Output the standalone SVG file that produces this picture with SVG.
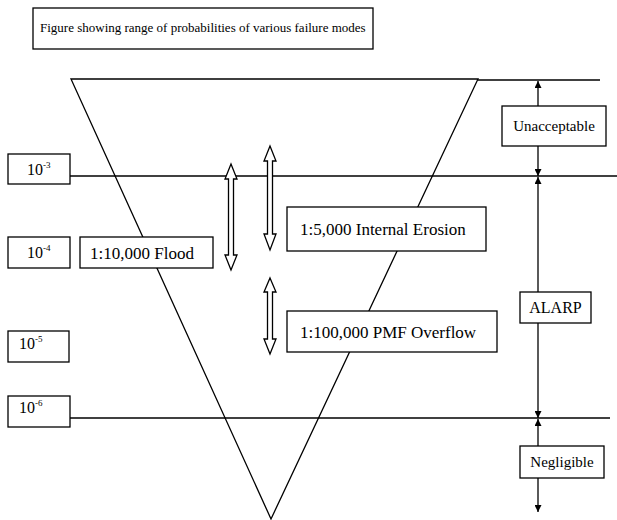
<svg xmlns="http://www.w3.org/2000/svg" width="617" height="520" viewBox="0 0 617 520">
<style>
.box{fill:#fff;stroke:#000;stroke-width:1.3}
.ln{stroke:#000;stroke-width:1.3;fill:none}
.t{font-family:"Liberation Serif","Times New Roman",serif;font-size:16px;fill:#000}
.l{font-size:17px}
.s{font-size:9px}
.dbl{fill:#fff;stroke:#000;stroke-width:1.3}
</style>
<defs>
<marker id="ah" viewBox="0 0 10 10" refX="10" refY="5" markerWidth="7" markerHeight="7" orient="auto-start-reverse" markerUnits="userSpaceOnUse">
<path d="M0,0 L10,5 L0,10 Z" fill="#000"/>
</marker>
</defs>
<g id="title"><rect class="box" x="33" y="8" width="340" height="41"/><text class="t" x="40" y="32" style="font-size:13px">Figure showing range of probabilities of various failure modes</text></g>
<g id="triangle"><polygon class="ln" points="71,79 478,79 271,519"/></g>
<g id="connectors">
<line class="ln" x1="478" y1="80" x2="600" y2="80"/>
<line class="ln" x1="70" y1="176" x2="617" y2="176"/>
<line class="ln" x1="70" y1="418" x2="610" y2="418"/>
<line class="ln" x1="538" y1="106" x2="538" y2="81" marker-end="url(#ah)"/>
<line class="ln" x1="538" y1="146" x2="538" y2="176" marker-end="url(#ah)"/>
<line class="ln" x1="538" y1="292" x2="538" y2="177" marker-end="url(#ah)"/>
<line class="ln" x1="538" y1="323" x2="538" y2="418" marker-end="url(#ah)"/>
<line class="ln" x1="538" y1="446" x2="538" y2="419" marker-end="url(#ah)"/>
<line class="ln" x1="538" y1="478" x2="538" y2="512" marker-end="url(#ah)"/>
<polygon class="dbl" points="231,164 237,179 233.5,179 233.5,255 237,255 231,270 225,255 228.5,255 228.5,179 225,179"/>
<polygon class="dbl" points="270,146 276,161 272.5,161 272.5,234 276,234 270,250 264,234 267.5,234 267.5,161 264,161"/>
<polygon class="dbl" points="270,278 276,292 272.5,292 272.5,339 276,339 270,354 264,339 267.5,339 267.5,292 264,292"/>
</g>
<g id="p3"><rect class="box" x="8" y="154" width="62" height="30"/><text class="t" x="27" y="175">10<tspan class="s" dy="-7">-3</tspan></text></g>
<g id="p4"><rect class="box" x="8" y="237" width="62" height="31"/><text class="t" x="27" y="258">10<tspan class="s" dy="-7">-4</tspan></text></g>
<g id="p5"><rect class="box" x="8" y="331" width="61" height="31"/><text class="t" x="19" y="349">10<tspan class="s" dy="-7">-5</tspan></text></g>
<g id="p6"><rect class="box" x="8" y="396" width="62" height="31"/><text class="t" x="19" y="413">10<tspan class="s" dy="-7">-6</tspan></text></g>
<g id="flood"><rect class="box" x="80" y="237" width="133" height="31"/><text class="t l" x="90" y="259">1:10,000 Flood</text></g>
<g id="erosion"><rect class="box" x="287" y="207" width="199" height="44"/><text class="t l" x="300" y="235">1:5,000 Internal Erosion</text></g>
<g id="pmf"><rect class="box" x="287" y="311" width="210" height="41"/><text class="t l" x="300" y="338">1:100,000 PMF Overflow</text></g>
<g id="unacceptable"><rect class="box" x="502" y="106" width="104" height="40"/><text class="t" x="554" y="131" text-anchor="middle" style="font-size:15px">Unacceptable</text></g>
<g id="alarp"><rect class="box" x="520" y="292" width="71" height="31"/><text class="t" x="555.5" y="313" text-anchor="middle">ALARP</text></g>
<g id="negligible"><rect class="box" x="520" y="446" width="84" height="32"/><text class="t" x="562" y="467" text-anchor="middle" style="font-size:15px">Negligible</text></g>
</svg>
